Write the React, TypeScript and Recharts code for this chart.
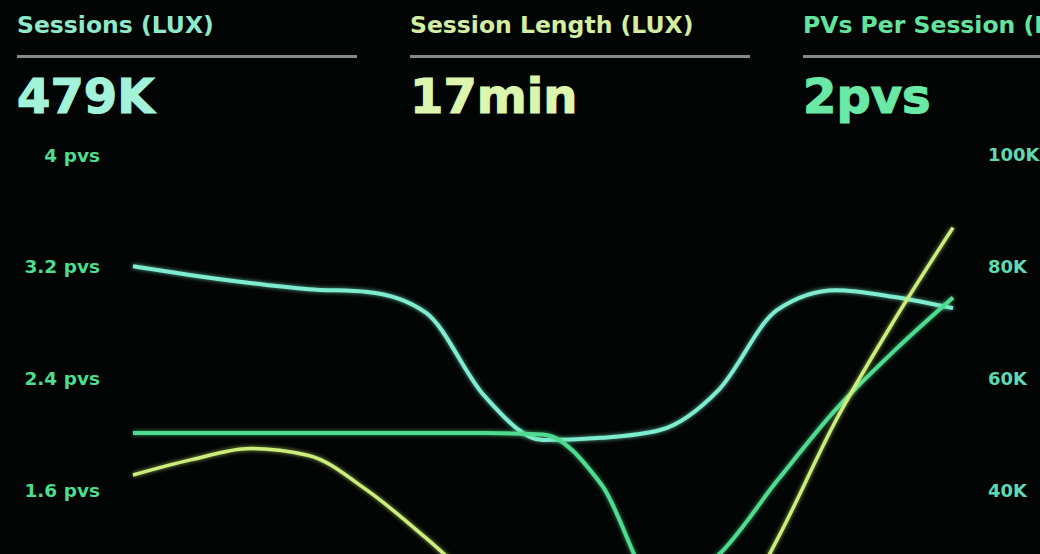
import { LineChart, Line, XAxis, YAxis } from 'recharts'

// 15 samples across the visible range (the chart is cut off at the bottom)
const periods = ['1', '2', '3', '4', '5', '6', '7', '8', '9', '10', '11', '12', '13', '14', '15']
const sessions = [80.1, 78.5, 77.1, 76.0, 75.5, 71.8, 56.9, 49.0, 49.4, 50.8, 58.0, 72.3, 75.8, 74.6, 72.6] // K
const sessionLength = [17.1, 18.2, 19.0, 18.5, 16.0, 12.6, 8.9, 6.0, 3.9, 3.1, 5.3, 12.5, 21.0, 28.2, 34.8] // min
const pvsPerSession = [2.01, 2.01, 2.01, 2.01, 2.01, 2.01, 2.01, 2.0, 1.64, 0.89, 1.14, 1.67, 2.18, 2.6, 2.98]

// only the ticks that are visible above the fold
const pvsTicks = [1.6, 2.4, 3.2, 4]
const sessionTicks = [40000, 60000, 80000, 100000]

const headers = [
  { title: 'Sessions (LUX)', value: '479K', titleColor: '#8ee9cb', valueColor: '#a2f3d9' },
  { title: 'Session Length (LUX)', value: '17min', titleColor: '#d3eea0', valueColor: '#dcf6ad' },
  { title: 'PVs Per Session (LUX)', value: '2pvs', titleColor: '#63e39c', valueColor: '#6ae8a5' },
]

const chartData = periods.map((p, i) => ({
  period: p,
  sessions: sessions[i] * 1000,
  length: sessionLength[i],
  pvs: pvsPerSession[i],
}))

const font = '"DejaVu Sans", sans-serif'

export default function App() {
  return (
    <div style={{ position: 'fixed', inset: 0, background: '#030504', overflow: 'hidden', fontFamily: font }}>
      <style>{`
        .glow-cyan path { filter: drop-shadow(0 0 2px rgba(120,235,205,0.7)); }
        .glow-green path { filter: drop-shadow(0 0 2px rgba(80,220,140,0.7)); }
        .glow-yellow path { filter: drop-shadow(0 0 2px rgba(205,240,120,0.7)); }
      `}</style>

      {/* KPI headers */}
      {headers.map((h, i) => (
        <div key={h.title} style={{ position: 'absolute', left: 17 + i * 393, top: 10, width: 340 }}>
          <div style={{ color: h.titleColor, fontSize: 23.5, fontWeight: 700, lineHeight: '30px', whiteSpace: 'nowrap' }}>{h.title}</div>
          <div style={{ height: 3, background: '#858a87', marginTop: 15, width: i === 2 ? 400 : 340 }} />
          <div
            style={{
              color: h.valueColor,
              fontSize: 48,
              fontWeight: 700,
              lineHeight: '60px',
              marginTop: 8,
              letterSpacing: 0,
              WebkitTextStroke: `1.2px ${h.valueColor}`,
            }}
          >
            {h.value}
          </div>
        </div>
      ))}

      <div style={{ position: 'absolute', left: 0, top: 0 }}>
        <LineChart width={1040} height={760} data={chartData} margin={{ top: 155, right: 0, bottom: 46, left: 0 }}>
          <XAxis dataKey="period" hide padding={{ left: 0, right: 0 }} />
          <YAxis
            yAxisId="pvs"
            orientation="left"
            width={133}
            domain={[0, 4]}
            ticks={pvsTicks}
            axisLine={false}
            tickLine={false}
            tickMargin={27}
            tickFormatter={(v: number) => `${v} pvs`}
            tick={{ fill: '#4fdc8e', fontSize: 18.5, fontWeight: 700, fontFamily: font }}
          />
          <YAxis
            yAxisId="sessions"
            orientation="right"
            width={87}
            domain={[0, 100000]}
            ticks={sessionTicks}
            axisLine={false}
            tickLine={false}
            tickMargin={29}
            tickFormatter={(v: number) => `${v / 1000}K`}
            tick={{ fill: '#5fd9b2', fontSize: 18, fontWeight: 700, fontFamily: font }}
          />
          <YAxis yAxisId="length" hide width={0} domain={[0, 40]} />
          <Line
            className="glow-cyan"
            yAxisId="sessions"
            type="monotone"
            dataKey="sessions"
            stroke="#7feccf"
            strokeWidth={4}
            dot={false}
            isAnimationActive={false}
          />
          <Line
            className="glow-green"
            yAxisId="pvs"
            type="monotone"
            dataKey="pvs"
            stroke="#4fdc92"
            strokeWidth={4}
            dot={false}
            isAnimationActive={false}
          />
          <Line
            className="glow-yellow"
            yAxisId="length"
            type="monotone"
            dataKey="length"
            stroke="#cdee7c"
            strokeWidth={3.5}
            dot={false}
            isAnimationActive={false}
          />
        </LineChart>
      </div>
    </div>
  )
}
